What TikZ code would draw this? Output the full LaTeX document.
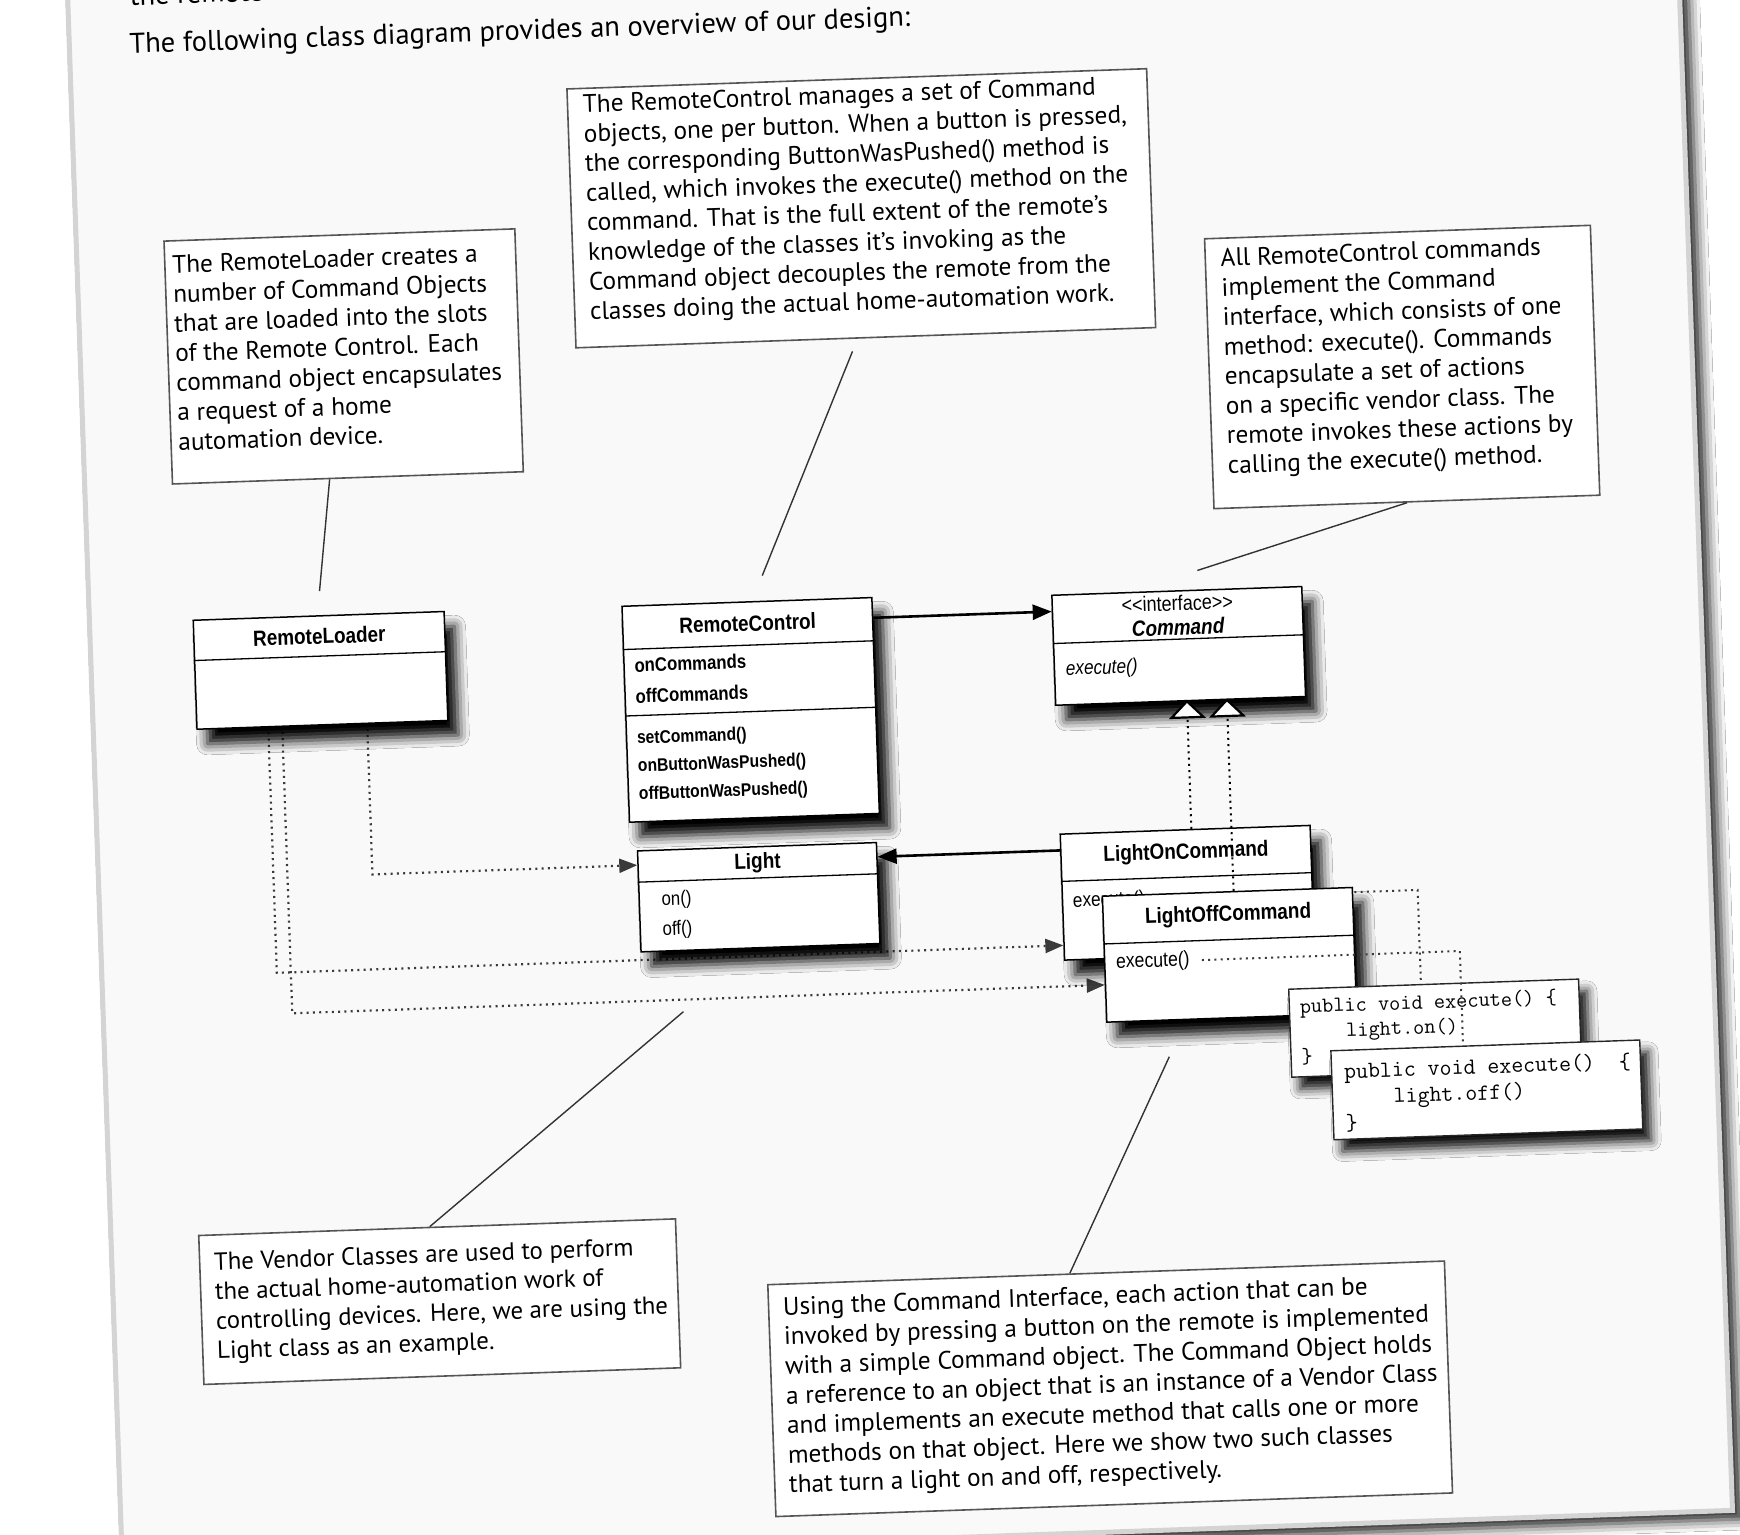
\documentclass[tikz,border=0pt]{standalone}
\usepackage{fontspec}
\setmainfont{PT Sans}
\newfontfamily\umlfont[FakeStretch=0.86]{Liberation Sans}
\usetikzlibrary{arrows.meta,calc,shadows.blur}
\definecolor{pagebg}{HTML}{F9F9F9}
\definecolor{pageedge}{HTML}{D4D4D4}
\definecolor{notebd}{HTML}{555555}
\definecolor{dotc}{HTML}{3A3A3A}
\tikzset{
  x=1pt, y=-1pt,
  note/.style={draw=notebd, line width=1.6pt, fill=white, anchor=north west, inner sep=0pt},
  notetext/.style={anchor=base west, inner sep=0pt, font=\fontsize{25.3}{29.6}\selectfont},
  lead/.style={draw=black!80, line width=1.4pt},
  umlbox/.style={draw=black, line width=1.5pt, fill=white, anchor=north west, inner sep=0pt,
    blur shadow={shadow xshift=10pt, shadow yshift=-15pt, shadow blur radius=11pt, shadow opacity=100}},
  codebox/.style={draw=black!85, line width=1.4pt, fill=white, anchor=north west, inner sep=0pt,
    blur shadow={shadow xshift=8pt, shadow yshift=-12pt, shadow blur radius=10pt, shadow opacity=95}},
  divider/.style={draw=black, line width=1.3pt},
  umltitle/.style={inner sep=0pt, font=\umlfont\bfseries\fontsize{22}{24}\selectfont},
  umlattr/.style={anchor=west, inner sep=0pt, font=\umlfont\bfseries\fontsize{19.5}{22}\selectfont},
  umlmeth/.style={anchor=west, inner sep=0pt, font=\umlfont\bfseries\fontsize{18.2}{20}\selectfont},
  umlplain/.style={anchor=west, inner sep=0pt, font=\umlfont\fontsize{20}{22}\selectfont},
  assoc/.style={draw=black, line width=2.6pt, -{Triangle[length=19pt,width=15pt]}},
  dep/.style={draw=dotc, line width=2.2pt, dash pattern=on 2pt off 4.3pt,
    -{Triangle[length=18pt,width=14pt]}},
  depline/.style={draw=dotc, line width=2pt, dash pattern=on 2pt off 4.3pt},
  realize/.style={draw=black, line width=2pt, dash pattern=on 2pt off 4.3pt},
  hollow/.style={draw=black, line width=2.2pt, fill=white, line join=miter},
  codetext/.style={anchor=base west, inner sep=0pt}
}
\begin{document}
\begin{tikzpicture}
\useasboundingbox (0,0) rectangle (1740,1534);
\fill[white] (0,0) rectangle (1740,1534);
\begin{scope}[transform canvas={rotate around={2:(870,767)}}]

% the page
\path[fill=pagebg, draw=pageedge, line width=5pt,
  blur shadow={shadow xshift=9pt, shadow yshift=-9pt, shadow blur radius=11pt, shadow opacity=88}]
  (95,-400) rectangle (1706,1540);

\node[anchor=base west, inner sep=0pt, font=\fontsize{28.5}{32}\selectfont] (prevline) at (157,-20) {the remote as we};
\node[anchor=base west, inner sep=0pt, font=\fontsize{28.5}{32}\selectfont] (title) at (155,28)
  {The following class diagram provides an overview of our design:};

% ---------- notes ----------
\node[note, minimum width=351pt, minimum height=243pt] (n1) at (182,216) {};
\node[notetext] (n1t) at (190,249) {\parbox[t]{340pt}{\raggedright
The RemoteLoader creates a\\
number of Command Objects\\
that are loaded into the slots\\
of the Remote Control.  Each\\
command object encapsulates\\
a request of a home\\
automation device.}};

\node[note, minimum width=580pt, minimum height=259pt] (n2) at (590,78) {};
\node[notetext] (n2t) at (606,103) {\parbox[t]{570pt}{\raggedright
The RemoteControl manages a set of Command\\
objects, one per button.  When a button is pressed,\\
the corresponding ButtonWasPushed() method is\\
called, which invokes the execute() method on the\\
command.  That is the full extent of the remote’s\\
knowledge of the classes it’s invoking as the\\
Command object decouples the remote from the\\
classes doing the actual home-automation work.}};

\node[note, minimum width=386pt, minimum height=270pt] (n3) at (1222,250) {};
\node[notetext] (n3t) at (1238,279) {\parbox[t]{380pt}{\raggedright
All RemoteControl commands\\
implement the Command\\
interface, which consists of one\\
method: execute().  Commands\\
encapsulate a set of actions\\
on a specific vendor class.  The\\
remote invokes these actions by\\
calling the execute() method.}};

\node[note, minimum width=477pt, minimum height=149pt] (n4) at (182,1211) {};
\node[notetext, font=\fontsize{24.8}{29.6}\selectfont] (n4t) at (197,1247) {\parbox[t]{470pt}{\raggedright
The Vendor Classes are used to perform\\
the actual home-automation work of\\
controlling devices. Here, we are using the\\
Light class as an example.}};

\node[note, minimum width=677pt, minimum height=232pt] (n5) at (749,1280) {};
\node[notetext] (n5t) at (764,1312) {\parbox[t]{670pt}{\raggedright
Using the Command Interface,  each action that can be\\
invoked by pressing a button on the remote is implemented\\
with a simple Command object. The Command Object holds\\
a reference to an object that is an instance of a Vendor Class\\
and implements an execute method that calls one or more\\
methods on that object.  Here we show two such classes\\
that turn a light on and off, respectively.}};

% leader lines from the notes
\coordinate (l1) at (326,572);
\coordinate (l2a) at (867,351);
\coordinate (l2) at (769,572);
\coordinate (l3) at (1204,582);
\coordinate (l4) at (675,1005);
\coordinate (l5) at (1159,1067);
\draw[lead] ($(n1.south west)+(158,0)$) -- (l1);
\draw[lead] (l2a) -- (l2);
\draw[lead] ($(n3.south west)+(194,0)$) -- (l3);
\draw[lead] (l4) -- ($(n4.north west)+(232,0)$);
\draw[lead] (l5) -- ($(n5.north west)+(303,0)$);

% ---------- class boxes placed first so connectors can refer to them ----------
\path (198,596) coordinate (rlpos) (627,597) coordinate (rcpos) (1057,601) coordinate (cmdpos)
      (634,842) coordinate (lightpos) (1057,840) coordinate (lonpos) (1097,903.5) coordinate (loffpos)
      (1280,1003) coordinate (c1pos) (1320,1066) coordinate (c2pos);

% dependency connectors from RemoteLoader (under the boxes)
\draw[dep] ($(rlpos)+(171,109)$) |- ($(lightpos)+(0,15)$);
\draw[dep] ($(rlpos)+(72,109)$) |- ($(lonpos)+(0,112)$);
\draw[dep] ($(rlpos)+(86,109)$) |- ($(loffpos)+(0,89.5)$);

% RemoteLoader
\node[umlbox, minimum width=251pt, minimum height=109pt] (rl) at (rlpos) {};
\draw[divider] ($(rl.north west)+(0,41)$) -- ($(rl.north east)+(0,41)$);
\node[umltitle] (rlname) at ($(rl.north)+(0,21)$) {RemoteLoader};

% RemoteControl
\node[umlbox, minimum width=250pt, minimum height=216pt] (rc) at (rcpos) {};
\draw[divider] ($(rc.north west)+(0,44)$) -- ($(rc.north east)+(0,44)$);
\draw[divider] ($(rc.north west)+(0,110.5)$) -- ($(rc.north east)+(0,110.5)$);
\node[umltitle] (rcname) at ($(rc.north)+(0,22)$) {RemoteControl};
\node[umlattr] (rca1) at ($(rc.north west)+(11,60)$) {onCommands};
\node[umlattr] (rca2) at ($(rc.north west)+(11,91)$) {offCommands};
\node[umlmeth] (rcm1) at ($(rc.north west)+(11,134)$) {setCommand()};
\node[umlmeth] (rcm2) at ($(rc.north west)+(11,162)$) {onButtonWasPushed()};
\node[umlmeth] (rcm3) at ($(rc.north west)+(11,190)$) {offButtonWasPushed()};

% Command interface
\node[umlbox, minimum width=250pt, minimum height=110pt] (cmd) at (cmdpos) {};
\draw[divider] ($(cmd.north west)+(0,49)$) -- ($(cmd.north east)+(0,49)$);
\node[inner sep=0pt, font=\umlfont\fontsize{21}{22}\selectfont] (cmdst) at ($(cmd.north)+(0,13)$) {<<interface>>};
\node[inner sep=0pt, font=\umlfont\bfseries\itshape\fontsize{22}{24}\selectfont] (cmdname) at ($(cmd.north)+(0,37)$) {Command};
\node[umlplain, font=\umlfont\itshape\fontsize{20}{22}\selectfont] (cmdm) at ($(cmd.north west)+(12,76)$) {execute()};

% Light
\node[umlbox, minimum width=239pt, minimum height=101pt] (light) at (lightpos) {};
\draw[divider] ($(light.north west)+(0,32)$) -- ($(light.north east)+(0,32)$);
\node[umltitle] (lightname) at ($(light.north)+(0,17)$) {Light};
\node[umlplain, font=\umlfont\fontsize{19.5}{22}\selectfont] (lightm1) at ($(light.north west)+(23,51)$) {on()};
\node[umlplain, font=\umlfont\fontsize{19.5}{22}\selectfont] (lightm2) at ($(light.north west)+(23,81)$) {off()};

% associations
\draw[assoc] ($(rc.north east)+(0,21)$) -- ($(cmd.north west)+(0,17)$);

% LightOnCommand
\draw[realize] ($(lonpos)+(132,0)$) -- ($(cmdpos)+(132,118)$);
\node[umlbox, minimum width=250pt, minimum height=126pt] (lon) at (lonpos) {};
\draw[divider] ($(lon.north west)+(0,48)$) -- ($(lon.north east)+(0,48)$);
\node[umltitle] (lonname) at ($(lon.north)+(0,24)$) {LightOnCommand};
\node[umlplain] (lonm) at ($(lon.north west)+(11,69)$) {execute()};
\draw[assoc] ($(lon.north west)+(0,17)$) -- ($(light.north east)+(0,15)$);

% LightOnCommand.execute() to its code
\draw[depline] ($(lonm.east)+(8,0)$) -| ($(c1pos)+(133,0)$);
% LightOffCommand realizes Command (crosses LightOnCommand)
\draw[realize] ($(loffpos)+(132,0)$) -- ($(cmdpos)+(172,118)$);

% LightOffCommand
\node[umlbox, minimum width=250pt, minimum height=126pt] (loff) at (loffpos) {};
\draw[divider] ($(loff.north west)+(0,48.5)$) -- ($(loff.north east)+(0,48.5)$);
\node[umltitle] (loffname) at ($(loff.north)+(0,24)$) {LightOffCommand};
\node[umlplain, font=\umlfont\fontsize{20.5}{22}\selectfont] (loffm) at ($(loff.north west)+(12,68)$) {execute()};

% code of LightOnCommand.execute()
\node[codebox, minimum width=290pt, minimum height=88pt] (code1) at (c1pos) {};
\node[codetext, font=\ttfamily\fontsize{21.7}{25}\selectfont] (code1t) at ($(code1.north west)+(11,25)$)
  {\parbox[t]{280pt}{\raggedright public void execute() \{\\\hspace*{2.1em}light.on()\\\}}};

\draw[depline] ($(loffm.east)+(12,0)$) -| ($(c2pos)+(133,0)$);

% code of LightOffCommand.execute()
\node[codebox, minimum width=309pt, minimum height=89pt] (code2) at (c2pos) {};
\node[codetext, font=\ttfamily\fontsize{23.2}{26}\selectfont] (code2t) at ($(code2.north west)+(13,29)$)
  {\parbox[t]{300pt}{\raggedright public void execute()\ \ \{\\\hspace*{2.1em}light.off()\\\}}};

% realization triangles under Command
\path[hollow] ($(cmd.south west)+(132,0)$) -- ++(-16,16) -- ++(32,0) -- cycle;
\path[hollow] ($(cmd.south west)+(172,0)$) -- ++(-16,16) -- ++(32,0) -- cycle;

\end{scope}
\end{tikzpicture}
\end{document}
